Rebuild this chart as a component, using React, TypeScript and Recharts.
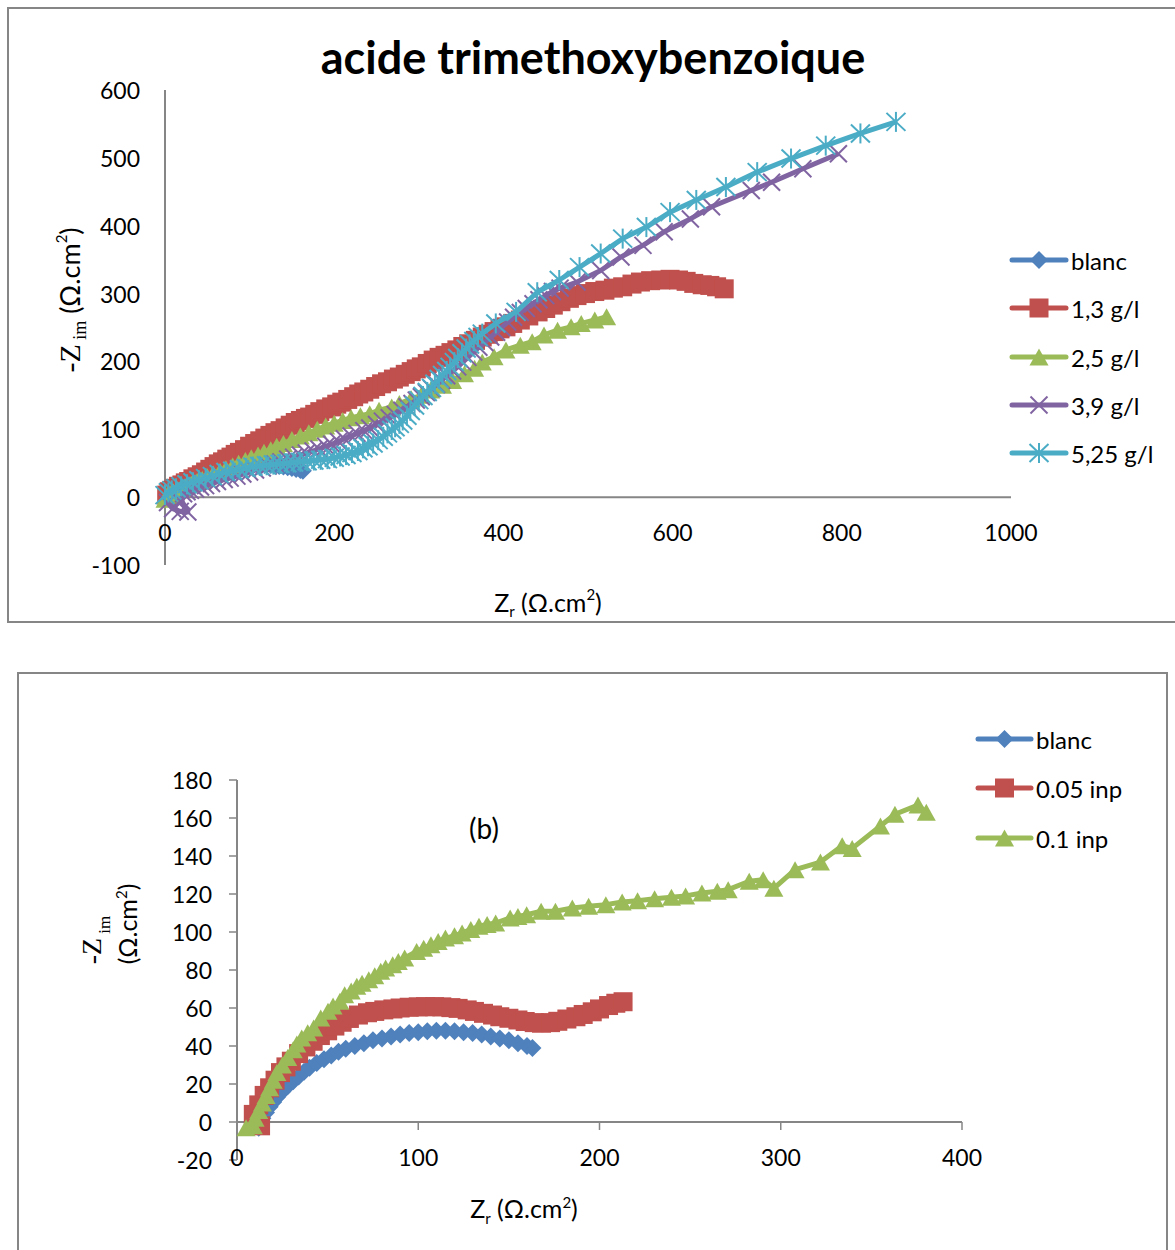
import React from 'react';
import { ScatterChart, Scatter, XAxis, YAxis, ReferenceLine } from 'recharts';

type Pt = [number, number];

// ---------- data ----------
const blanc: Pt[] = [
  [12, -3], [14, 2], [16, 5], [18, 8], [20, 10.5], [22, 13], [25, 16], [28, 19], [31, 21.5], [34, 24],
  [37, 26.5], [40, 28.5], [44, 31], [48, 33], [52, 35], [56, 37], [60, 38.5], [65, 40], [70, 41.5],
  [75, 43], [80, 44], [85, 45], [90, 46], [95, 46.8], [100, 47.3], [105, 47.8], [110, 48], [115, 48],
  [120, 47.8], [125, 47.3], [130, 46.8], [135, 46], [140, 45], [145, 44], [150, 43], [155, 41.5],
  [160, 40], [163, 39],
];

const g13: Pt[] = [
  [2, 3], [5, 8], [8, 10], [12, 13], [16, 16], [20, 18], [24, 21], [28, 23], [33, 27], [38, 30],
  [43, 33], [48, 37], [53, 41], [58, 45], [63, 49], [68, 52], [73, 56], [78, 59], [83, 63], [88, 66],
  [94, 70], [100, 75], [106, 79], [112, 83], [118, 87], [124, 91], [130, 95], [136, 98], [142, 102],
  [148, 106], [154, 110], [160, 113], [166, 116], [171, 118], [177, 122], [183, 126], [190, 130],
  [197, 133], [203, 137], [209, 140], [216, 144], [223, 148], [229, 152], [235, 155], [242, 159],
  [249, 163], [256, 167], [263, 170], [270, 174], [277, 177], [284, 181], [291, 185], [297, 189],
  [303, 192], [310, 197], [317, 202], [324, 206], [331, 209], [338, 213], [345, 217], [352, 222],
  [359, 226], [367, 231], [375, 236], [382, 240], [389, 244], [396, 248], [403, 251], [411, 256],
  [420, 261], [430, 267], [441, 273], [450, 278], [459, 283], [468, 288], [478, 293], [487, 297],
  [497, 300], [508, 303], [520, 305], [530, 308], [541, 310], [552, 314], [562, 317], [574, 319],
  [586, 320], [597, 321], [607, 320], [616, 318], [625, 315], [635, 313], [644, 312], [652, 310],
  [661, 307],
];

const g25: Pt[] = [
  [0, -3], [3, 3], [6, 5], [10, 8], [15, 11], [20, 13], [25, 16], [31, 19], [38, 23], [44, 26],
  [50, 30], [57, 34], [65, 38], [72, 42], [80, 46], [87, 50], [95, 54], [102, 58], [110, 62],
  [117, 66], [125, 70], [132, 75], [140, 79], [150, 85], [160, 90], [170, 95], [180, 100], [190, 105],
  [200, 109], [210, 113], [220, 117], [231, 120], [242, 123], [253, 128], [268, 133], [277, 138],
  [291, 145], [303, 150], [314, 158], [328, 165], [340, 172], [354, 182], [366, 190], [375, 199],
  [389, 207], [403, 217], [420, 224], [434, 229], [448, 239], [464, 246], [480, 251], [492, 256],
  [508, 261], [522, 266],
];

const g39: Pt[] = [
  [3, -8], [9, -17], [18, -21], [27, -22], [20, -6], [22, 5], [26, 8], [30, 10], [36, 12], [42, 15],
  [48, 17], [55, 20], [62, 23], [70, 26], [77, 28], [85, 31], [92, 34], [100, 37], [107, 40],
  [115, 43], [122, 46], [130, 49], [137, 52], [145, 56], [152, 59], [160, 62], [167, 65], [175, 68],
  [182, 71], [190, 75], [197, 78], [205, 82], [212, 86], [220, 90], [227, 94], [235, 98], [242, 102],
  [250, 107], [257, 112], [265, 117], [272, 122], [280, 128], [286, 133], [292, 138], [297, 143],
  [303, 148], [309, 154], [315, 160], [321, 166], [327, 172], [333, 179], [340, 186], [346, 192],
  [352, 199], [358, 206], [365, 214], [371, 221], [378, 228], [385, 236], [392, 243], [398, 250],
  [405, 258], [412, 265], [420, 272], [427, 278], [435, 285], [442, 291], [450, 297], [458, 303],
  [467, 308], [487, 317], [515, 334], [539, 354], [565, 371], [590, 391], [621, 410], [646, 428],
  [693, 452], [717, 464], [754, 484], [796, 506],
];

const g525: Pt[] = [
  [0, 3], [4, 7], [8, 10], [13, 13], [19, 16], [26, 19], [33, 22], [40, 25], [48, 28], [56, 31],
  [64, 34], [72, 37], [80, 39], [88, 41], [96, 43], [104, 45], [112, 46], [120, 47], [128, 48],
  [136, 49], [144, 50], [152, 51], [160, 52], [168, 53], [176, 54], [184, 55], [192, 56], [200, 58],
  [207, 60], [214, 62], [221, 65], [228, 68], [234, 72], [240, 75], [246, 79], [252, 84], [258, 89],
  [263, 94], [268, 99], [272, 103], [277, 108], [281, 113], [286, 120], [290, 127], [295, 135],
  [300, 143], [305, 149], [310, 155], [315, 161], [319, 167], [324, 174], [328, 180], [333, 186],
  [337, 192], [342, 199], [346, 205], [351, 212], [356, 219], [360, 225], [365, 230], [370, 236],
  [375, 241], [391, 256], [415, 273], [440, 302], [466, 320], [490, 339], [515, 359], [541, 381],
  [569, 398], [597, 420], [628, 438], [663, 457], [700, 479], [740, 499], [781, 518], [822, 536],
  [864, 553],
];

const inp005: Pt[] = [
  [13, -2], [9, 4], [12, 9], [15, 14], [18, 18], [21, 22], [24, 26], [27, 29], [30, 32], [34, 36],
  [38, 39.5], [42, 42.5], [46, 45.5], [50, 48], [54, 50.5], [58, 52.5], [62, 54.5], [67, 56.3],
  [72, 57.5], [76, 58.2], [81, 59], [86, 59.5], [90, 60], [95, 60.4], [100, 60.6], [104, 60.7],
  [109, 60.7], [113, 60.6], [118, 60.2], [122, 59.8], [127, 59], [131, 58.2], [136, 57.2],
  [141, 56.3], [145, 55.4], [150, 54.6], [155, 53.7], [159, 52.9], [164, 52.3], [168, 52],
  [173, 52.3], [177, 53], [182, 54.2], [187, 55.4], [191, 56.6], [196, 58], [200, 59.5],
  [205, 61.3], [209, 62.5], [213, 63.3],
];

const inp01: Pt[] = [
  [5, -3], [9, -2], [10, 2], [12, 6], [14, 10], [16, 14], [18, 18], [20, 22], [22, 26], [25, 30],
  [28, 34], [31, 38], [33, 41], [35.7, 44.2], [39, 47], [42.3, 49.5], [46.2, 54.7], [50.2, 58.3],
  [53, 61], [56.8, 63.5], [59.4, 67], [63, 69], [66.1, 71.4], [69, 73], [72.7, 74.9], [76, 77],
  [79.3, 79.3], [82, 81], [85.9, 82.8], [89, 84.5], [92.5, 86.3], [99.1, 89.8], [103, 91.5],
  [107, 93.3], [111, 95], [115, 96.8], [120, 98], [124.2, 99.5], [129, 101.3], [133.5, 103],
  [138, 104], [142.7, 104.7], [150.7, 107.4], [155, 108.2], [159.8, 109.1], [167.8, 110.9],
  [175.7, 110.9], [185, 112.6], [194, 113.5], [203.5, 114.4], [212.5, 115.8], [221, 116.5],
  [230.4, 117.5], [239.7, 118.3], [247.5, 119], [256.5, 120.5], [265, 121.4], [271, 122.3],
  [282.6, 126.7], [290.3, 127.5], [296.2, 123], [307.9, 132.8], [321.9, 136.8], [333.9, 145.4],
  [339.4, 144], [355, 155.8], [363, 162], [375.7, 166.8], [380.3, 163],
];

const xTicks1 = [0, 200, 400, 600, 800, 1000];
const yTicks1 = [-100, 0, 100, 200, 300, 400, 500, 600];
const xTicks2 = [0, 100, 200, 300, 400];
const yTicks2 = [-20, 0, 20, 40, 60, 80, 100, 120, 140, 160, 180];

const series1 = [
  { name: 'blanc', data: blanc, color: '#4F81BD', marker: 'diamond' },
  { name: '1,3 g/l', data: g13, color: '#C0504D', marker: 'square' },
  { name: '2,5 g/l', data: g25, color: '#9BBB59', marker: 'triangle' },
  { name: '3,9 g/l', data: g39, color: '#8064A2', marker: 'x' },
  { name: '5,25 g/l', data: g525, color: '#4BACC6', marker: 'star' },
];
const series2 = [
  { name: 'blanc', data: blanc, color: '#4F81BD', marker: 'diamond' },
  { name: '0.05 inp', data: inp005, color: '#C0504D', marker: 'square' },
  { name: '0.1 inp', data: inp01, color: '#9BBB59', marker: 'triangle' },
];

// ---------- styling ----------
const FONT = "Lato, 'Open Sans', 'DejaVu Sans', sans-serif";
const SERIF = "'Liberation Serif', 'DejaVu Serif', serif";
const AXIS = '#868686';
const SIZES: Record<string, [number, number]> = {
  diamond: [18, 18],
  square: [19, 19],
  triangle: [19, 17],
  x: [17, 17],
  star: [19, 18],
};

const toPts = (arr: Pt[]) => arr.map(([x, y]) => ({ x, y }));

function MarkerShape({ kind, cx, cy, color }: any) {
  const [w, h] = SIZES[kind];
  const a = w / 2;
  const b = h / 2;
  if (cx == null || cy == null) return null;
  switch (kind) {
    case 'diamond':
      return <polygon points={`${cx},${cy - b} ${cx + a},${cy} ${cx},${cy + b} ${cx - a},${cy}`} fill={color} />;
    case 'square':
      return <rect x={cx - a} y={cy - b} width={w} height={h} fill={color} />;
    case 'triangle':
      return <polygon points={`${cx},${cy - b} ${cx + a},${cy + b} ${cx - a},${cy + b}`} fill={color} />;
    case 'x':
      return (
        <g stroke={color} strokeWidth={2}>
          <line x1={cx - a} y1={cy - b} x2={cx + a} y2={cy + b} />
          <line x1={cx - a} y1={cy + b} x2={cx + a} y2={cy - b} />
        </g>
      );
    case 'star':
      return (
        <g stroke={color} strokeWidth={2}>
          <line x1={cx - a} y1={cy - b} x2={cx + a} y2={cy + b} />
          <line x1={cx - a} y1={cy + b} x2={cx + a} y2={cy - b} />
          <line x1={cx} y1={cy - b - 1} x2={cx} y2={cy + b + 1} />
        </g>
      );
    default:
      return null;
  }
}

function LegendBlock({ items, x0, x1, textX, ys, fontSize }: any) {
  return (
    <g>
      {items.map((s: any, i: number) => (
        <g key={s.name}>
          <line x1={x0} x2={x1} y1={ys[i]} y2={ys[i]} stroke={s.color} strokeWidth={5} strokeLinecap="round" />
          <MarkerShape kind={s.marker} cx={(x0 + x1) / 2} cy={ys[i]} color={s.color} />
          <text x={textX} y={ys[i]} dominantBaseline="central" fontFamily={FONT} fontSize={fontSize} fill="#000">
            {s.name}
          </text>
        </g>
      ))}
    </g>
  );
}

const W = 1175;
const H1 = 623;
const H2 = 610;

export default function App() {
  const c2Top = 140;
  const c2PlotH = 380;
  const y0Chart2 = c2Top + (c2PlotH * (180 - 0)) / (180 - -20);

  return (
    <div style={{ position: 'absolute', left: 0, top: 0, width: W, height: 1250, background: '#fff', overflow: 'hidden' }}>
      {/* ---------------- chart 1 ---------------- */}
      <div style={{ position: 'absolute', left: 0, top: 0, width: W, height: H1, overflow: 'hidden' }}>
        <div
          style={{
            position: 'absolute', left: 7, top: 7, width: 1200, height: 616,
            border: `2px solid ${AXIS}`, boxSizing: 'border-box',
          }}
        />
        <div style={{ position: 'absolute', left: 0, top: 0 }}>
          <ScatterChart width={W} height={H1} margin={{ top: 90, right: 164, left: 105, bottom: 28 }}>
            <XAxis
              type="number" dataKey="x" domain={[0, 1000]} ticks={xTicks1} interval={0}
              axisLine={false} tickLine={false} height={30}
              tick={(p: any) => (
                <text x={p.x} y={532} textAnchor="middle" dominantBaseline="central" fontFamily={FONT} fontSize={23} fill="#000">
                  {p.payload.value}
                </text>
              )}
            />
            <YAxis
              type="number" dataKey="y" domain={[-100, 600]} ticks={yTicks1} interval={0} width={60}
              axisLine={{ stroke: AXIS, strokeWidth: 2 }} tickLine={false}
              tick={(p: any) => (
                <text x={140} y={p.y} textAnchor="end" dominantBaseline="central" fontFamily={FONT} fontSize={23} fill="#000">
                  {p.payload.value}
                </text>
              )}
            />
            <ReferenceLine y={0} stroke={AXIS} strokeWidth={2} ifOverflow="visible" />
            {series1.map((s) => (
              <Scatter
                key={s.name}
                name={s.name}
                data={toPts(s.data)}
                fill={s.color}
                line={{ stroke: s.color, strokeWidth: 5, strokeLinejoin: 'round' }}
                lineType="joint"
                shape={(p: any) => <MarkerShape kind={s.marker} cx={p.cx} cy={p.cy} color={s.color} />}
                isAnimationActive={false}
              />
            ))}
          </ScatterChart>
        </div>
        <svg width={W} height={H1} style={{ position: 'absolute', left: 0, top: 0, pointerEvents: 'none' }}>
          <text x={593} y={74} textAnchor="middle" fontFamily={FONT} fontWeight={700} fontSize={45} fill="#000">
            acide trimethoxybenzoique
          </text>
          <text transform="rotate(-90 80 300)" x={80} y={300} textAnchor="middle" fill="#000">
            <tspan fontFamily={SERIF} fontSize={30}>-Z</tspan>
            <tspan fontFamily={SERIF} fontSize={18} dy={6}> im</tspan>
            <tspan fontFamily={FONT} fontSize={27} dy={-6}> (Ω.cm</tspan>
            <tspan fontFamily={FONT} fontSize={15} dy={-13}>2</tspan>
            <tspan fontFamily={FONT} fontSize={27} dy={13}>)</tspan>
          </text>
          <text x={548} y={612} textAnchor="middle" fill="#000" fontFamily={FONT}>
            <tspan fontSize={25}>Z</tspan>
            <tspan fontSize={15} dy={5}>r</tspan>
            <tspan fontSize={25} dy={-5}> (Ω.cm</tspan>
            <tspan fontSize={15} dy={-12}>2</tspan>
            <tspan fontSize={25} dy={12}>)</tspan>
          </text>
          <LegendBlock items={series1} x0={1012} x1={1066} textX={1071} ys={[260, 308, 357, 405, 453]} fontSize={24} />
        </svg>
      </div>

      {/* ---------------- chart 2 ---------------- */}
      <div style={{ position: 'absolute', left: 0, top: 640, width: W, height: H2, overflow: 'hidden' }}>
        <div
          style={{
            position: 'absolute', left: 17, top: 32, width: 1151, height: 700,
            border: `2px solid ${AXIS}`, boxSizing: 'border-box',
          }}
        />
        <div style={{ position: 'absolute', left: 0, top: 0 }}>
          <ScatterChart width={W} height={H2} margin={{ top: c2Top, right: 213, left: 177, bottom: 60 }}>
            <XAxis
              type="number" dataKey="x" domain={[0, 400]} ticks={xTicks2} interval={0}
              axisLine={false} tickLine={false} height={30}
              tick={(p: any) => (
                <g>
                  <line x1={p.x} x2={p.x} y1={y0Chart2} y2={y0Chart2 + 8} stroke={AXIS} strokeWidth={1.5} />
                  <text x={p.x} y={517} textAnchor="middle" dominantBaseline="central" fontFamily={FONT} fontSize={23} fill="#000">
                    {p.payload.value}
                  </text>
                </g>
              )}
            />
            <YAxis
              type="number" dataKey="y" domain={[-20, 180]} ticks={yTicks2} interval={0} width={60}
              axisLine={{ stroke: AXIS, strokeWidth: 2 }} tickLine={{ stroke: AXIS, strokeWidth: 1.5 }} tickSize={8}
              tick={(p: any) => (
                <text x={212} y={p.y} textAnchor="end" dominantBaseline="central" fontFamily={FONT} fontSize={23} fill="#000">
                  {p.payload.value}
                </text>
              )}
            />
            <ReferenceLine y={0} stroke={AXIS} strokeWidth={2} ifOverflow="visible" />
            {series2.map((s) => (
              <Scatter
                key={s.name}
                name={s.name}
                data={toPts(s.data)}
                fill={s.color}
                line={{ stroke: s.color, strokeWidth: 5, strokeLinejoin: 'round' }}
                lineType="joint"
                shape={(p: any) => <MarkerShape kind={s.marker} cx={p.cx} cy={p.cy} color={s.color} />}
                isAnimationActive={false}
              />
            ))}
          </ScatterChart>
        </div>
        <svg width={W} height={H2} style={{ position: 'absolute', left: 0, top: 0, pointerEvents: 'none' }}>
          <text x={484} y={199} textAnchor="middle" fontFamily={FONT} fontSize={28} fill="#000">(b)</text>
          <text transform="rotate(-90 101 300)" x={101} y={300} textAnchor="middle" fill="#000">
            <tspan fontFamily={SERIF} fontSize={28}>-Z</tspan>
            <tspan fontFamily={SERIF} fontSize={17} dy={9}> im</tspan>
          </text>
          <text transform="rotate(-90 137 284)" x={137} y={284} textAnchor="middle" fill="#000" fontFamily={FONT}>
            <tspan fontSize={25}>(Ω.cm</tspan>
            <tspan fontSize={15} dy={-10}>2</tspan>
            <tspan fontSize={25} dy={10}>)</tspan>
          </text>
          <text x={524} y={578} textAnchor="middle" fill="#000" fontFamily={FONT}>
            <tspan fontSize={25}>Z</tspan>
            <tspan fontSize={15} dy={6}>r</tspan>
            <tspan fontSize={25} dy={-6}> (Ω.cm</tspan>
            <tspan fontSize={15} dy={-10}>2</tspan>
            <tspan fontSize={25} dy={10}>)</tspan>
          </text>
          <LegendBlock items={series2} x0={978} x1={1031} textX={1036} ys={[99, 148, 198]} fontSize={24} />
        </svg>
      </div>
    </div>
  );
}
